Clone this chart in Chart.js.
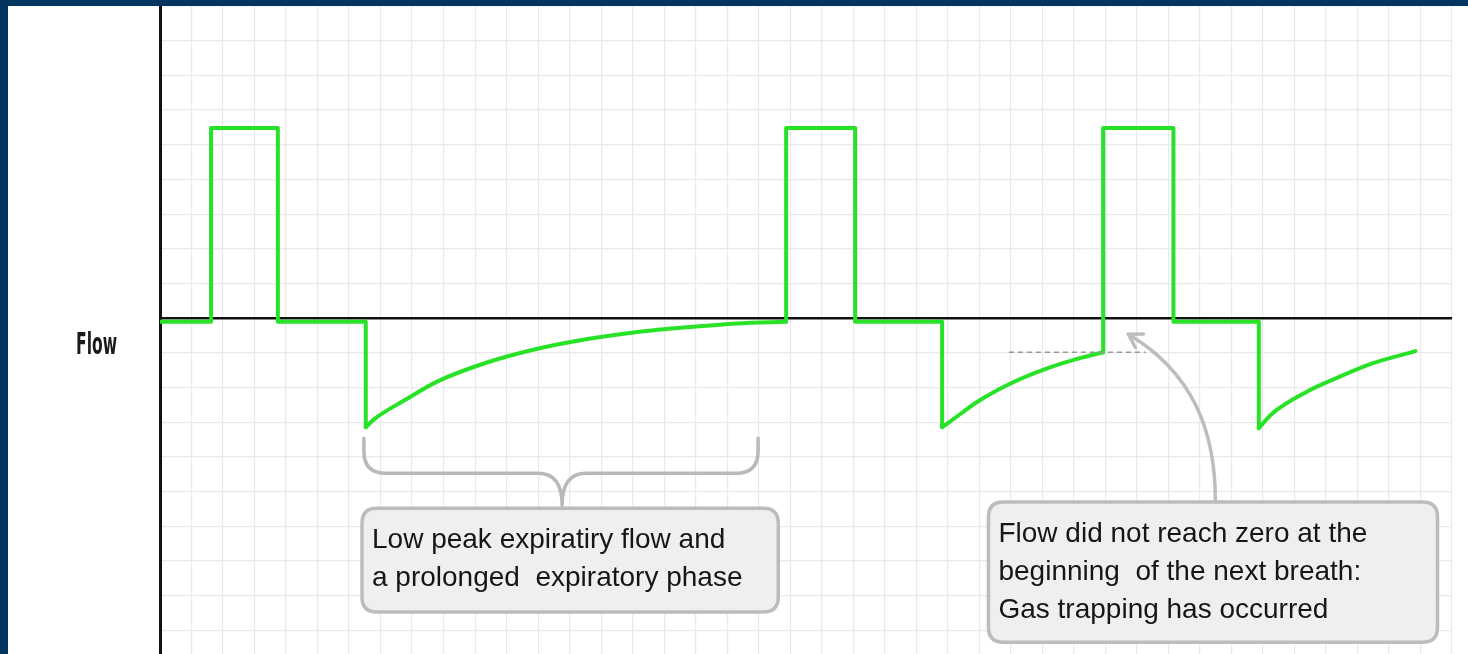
<!DOCTYPE html>
<html>
<head>
<meta charset="utf-8">
<title>Flow waveform – gas trapping</title>
<script src="https://cdn.jsdelivr.net/npm/chart.js@4.4.1/dist/chart.umd.min.js"></script>
<style>
  html, body { margin: 0; padding: 0; background: #fff; overflow: hidden; }
  #wrap { position: relative; width: 1468px; height: 654px; }
  #flow { position: absolute; left: 0; top: 0; }
  .band { position: absolute; background: #03335f; }
</style>
</head>
<body>
<div id="wrap">
  <canvas id="flow" width="1468" height="654"></canvas>
  <div class="band" style="left:0;top:0;width:1468px;height:6px"></div>
  <div class="band" style="left:0;top:0;width:8px;height:654px"></div>
</div>
<script>
// Ventilator flow trace. Time and flow are both in grid divisions (the trace is unlabelled).

// Grid divisions (no tick labels are drawn)
const timeTicks = [0, 1, 2, 3, 4, 5, 6, 7, 8, 9, 10, 11, 12, 13, 14, 15, 16, 17, 18, 19, 20,
  21, 22, 23, 24, 25, 26, 27, 28, 29, 30, 31, 32, 33, 34, 35, 36, 37, 38, 39, 40, 41];
const flowTicks = [-9, -8, -7, -6, -5, -4, -3, -2, -1, 0, 1, 2, 3, 4, 5, 6, 7, 8, 9];

// Breath 1: square inspiratory pulse, pause, then start of expiration
const insp1Time = [0, 1.62, 1.62, 3.74, 3.74, 6.53, 6.53];
const insp1Flow = [-0.1, -0.1, 5.48, 5.48, -0.1, -0.1, -3.14];
// Breath 1 expiration: low peak, long decay back to zero
const exp1Time = [6.53, 6.81, 7.77, 8.81, 10.40, 11.98, 13.57, 15.15, 16.74, 18.32, 19.87];
const exp1Flow = [-3.14, -2.90, -2.36, -1.82, -1.27, -0.88, -0.60, -0.40, -0.26, -0.15, -0.10];

// Breath 2
const insp2Time = [19.87, 19.87, 22.06, 22.06, 24.82, 24.82];
const insp2Flow = [-0.1, 5.48, 5.48, -0.1, -0.1, -3.14];
// Breath 2 expiration: cut short before flow returns to zero
const exp2Time = [24.82, 25.04, 25.99, 27.04, 28.11, 29.16, 29.93];
const exp2Flow = [-3.14, -3.00, -2.38, -1.86, -1.46, -1.16, -0.98];

// Breath 3 starts from the trapped (non-zero) flow level
const insp3Time = [29.93, 29.93, 32.16, 32.16, 34.87, 34.87];
const insp3Flow = [-0.98, 5.48, 5.48, -0.1, -0.1, -3.17];
const exp3Time = [34.87, 35.28, 36.35, 37.40, 38.45, 39.84];
const exp3Flow = [-3.17, -2.76, -2.14, -1.70, -1.31, -0.95];

const TRACE_GREEN = 'rgb(40,226,40)';

const segments = [
  [insp1Time, insp1Flow, false],
  [exp1Time, exp1Flow, true],
  [insp2Time, insp2Flow, false],
  [exp2Time, exp2Flow, true],
  [insp3Time, insp3Flow, false],
  [exp3Time, exp3Flow, true]
];

const datasets = segments.map(([t, f, curved]) => ({
  data: t.map((v, i) => ({ x: v, y: f[i] })),
  showLine: true,
  borderColor: TRACE_GREEN,
  borderWidth: 4,
  pointRadius: 0,
  tension: 0,
  cubicInterpolationMode: curved ? 'monotone' : 'default',
  borderJoinStyle: 'round',
  borderCapStyle: 'round'
}));

// Callouts, bracket and arrow, placed in grid units
const bracketSpan = { left: 6.47, right: 18.98, top: -3.46, bar: -4.47, tip: -5.39, mid: 12.76 };
const box1 = { x0: 6.41, x1: 19.62, y0: -5.48, y1: -8.47,
  lines: ['Low peak expiratiry flow and', 'a prolonged  expiratory phase'] };
const box2 = { x0: 26.29, x1: 40.54, y0: -5.30, y1: -9.34,
  lines: ['Flow did not reach zero at the', 'beginning  of the next breath:', 'Gas trapping has occurred'] };
const trapLine = { x0: 26.94, x1: 31.28, y: -0.98 };
const arrowPath = { sx: 33.49, sy: -5.24, c1x: 33.49, c1y: -3.23, c2x: 32.76, c2y: -1.56, ex: 30.73, ey: -0.46 };

function roundRect(ctx, x0, y0, x1, y1, r) {
  ctx.beginPath();
  ctx.moveTo(x0 + r, y0);
  ctx.lineTo(x1 - r, y0);
  ctx.quadraticCurveTo(x1, y0, x1, y0 + r);
  ctx.lineTo(x1, y1 - r);
  ctx.quadraticCurveTo(x1, y1, x1 - r, y1);
  ctx.lineTo(x0 + r, y1);
  ctx.quadraticCurveTo(x0, y1, x0, y1 - r);
  ctx.lineTo(x0, y0 + r);
  ctx.quadraticCurveTo(x0, y0, x0 + r, y0);
  ctx.closePath();
}

const notes = {
  id: 'notes',
  afterDraw(chart) {
    const { ctx, chartArea } = chart;
    const xs = chart.scales.x, ys = chart.scales.y;
    const px = v => xs.getPixelForValue(v);
    const py = v => ys.getPixelForValue(v);
    ctx.save();

    // dashed marker at the flow level where breath 3 began
    ctx.strokeStyle = '#9a9a9a';
    ctx.lineWidth = 1.5;
    ctx.setLineDash([5, 4]);
    ctx.beginPath();
    ctx.moveTo(px(trapLine.x0), py(trapLine.y));
    ctx.lineTo(px(trapLine.x1), py(trapLine.y));
    ctx.stroke();
    ctx.setLineDash([]);

    // curly bracket under the long expiration
    const L = px(bracketSpan.left), R = px(bracketSpan.right), M = px(bracketSpan.mid);
    const T = py(bracketSpan.top), H = py(bracketSpan.bar), P = py(bracketSpan.tip);
    const r = 22;
    ctx.strokeStyle = '#b9b9b9';
    ctx.lineWidth = 3.5;
    ctx.lineCap = 'round';
    ctx.lineJoin = 'round';
    ctx.beginPath();
    ctx.moveTo(L, T);
    ctx.lineTo(L, H - r);
    ctx.quadraticCurveTo(L, H, L + r, H);
    ctx.lineTo(M - 24, H);
    ctx.quadraticCurveTo(M, H, M, P);
    ctx.quadraticCurveTo(M, H, M + 24, H);
    ctx.lineTo(R - r, H);
    ctx.quadraticCurveTo(R, H, R, H - r);
    ctx.lineTo(R, T);
    ctx.stroke();

    // curved arrow pointing at the start of breath 3
    const a = arrowPath;
    ctx.strokeStyle = '#bdbdbd';
    ctx.beginPath();
    ctx.moveTo(px(a.sx), py(a.sy));
    ctx.bezierCurveTo(px(a.c1x), py(a.c1y), px(a.c2x), py(a.c2y), px(a.ex), py(a.ey));
    ctx.stroke();
    const tx = px(a.ex), ty = py(a.ey);
    const ang = Math.atan2(py(a.c2y) - ty, px(a.c2x) - tx);
    ctx.beginPath();
    ctx.moveTo(tx + 15 * Math.cos(ang - 0.55), ty + 15 * Math.sin(ang - 0.55));
    ctx.lineTo(tx, ty);
    ctx.lineTo(tx + 15 * Math.cos(ang + 0.55), ty + 15 * Math.sin(ang + 0.55));
    ctx.stroke();

    // callout boxes
    [box1, box2].forEach(b => {
      const x0 = px(b.x0), x1 = px(b.x1), y0 = py(b.y0), y1 = py(b.y1);
      roundRect(ctx, x0, y0, x1, y1, 15);
      ctx.fillStyle = '#efefef';
      ctx.fill();
      ctx.strokeStyle = '#bcbcbc';
      ctx.lineWidth = 3.5;
      ctx.stroke();
      ctx.fillStyle = '#161616';
      ctx.font = '28px "Liberation Sans", Arial, sans-serif';
      ctx.textBaseline = 'alphabetic';
      ctx.textAlign = 'left';
      b.lines.forEach((s, i) => ctx.fillText(s, x0 + 10, y0 + 40 + i * 37.8));
    });

    // axis name
    ctx.font = 'bold 31px "Liberation Sans Narrow", "DejaVu Sans Condensed", sans-serif';
    const w = ctx.measureText('Flow').width;
    ctx.fillStyle = '#1a1a1a';
    ctx.translate(chartArea.left - 84, py(0) + 36);
    ctx.scale(41 / w, 1);
    ctx.fillText('Flow', 0, 0);
    ctx.restore();
  }
};

const GRID = '#e9e9e9';

new Chart(document.getElementById('flow'), {
  type: 'scatter',
  data: { datasets },
  options: {
    responsive: false,
    animation: false,
    devicePixelRatio: 1,
    layout: { padding: { left: 160, right: 16, top: 6, bottom: 0 } },
    plugins: { legend: { display: false }, tooltip: { enabled: false } },
    scales: {
      x: {
        type: 'linear', min: 0, max: 41,
        afterBuildTicks: s => { s.ticks = timeTicks.map(v => ({ value: v })); },
        ticks: { display: false },
        grid: { color: GRID, lineWidth: 1.2, drawTicks: false },
        border: { display: false }
      },
      y: {
        type: 'linear', min: -9.68, max: 9,
        afterBuildTicks: s => { s.ticks = flowTicks.map(v => ({ value: v })); },
        ticks: { display: false },
        grid: {
          drawTicks: false,
          color: c => (c.tick && c.tick.value === 0) ? '#111' : GRID,
          lineWidth: c => (c.tick && c.tick.value === 0) ? 2.5 : 1.2
        },
        border: { display: true, color: '#111', width: 3 }
      }
    }
  },
  plugins: [notes]
});
</script>
</body>
</html>
